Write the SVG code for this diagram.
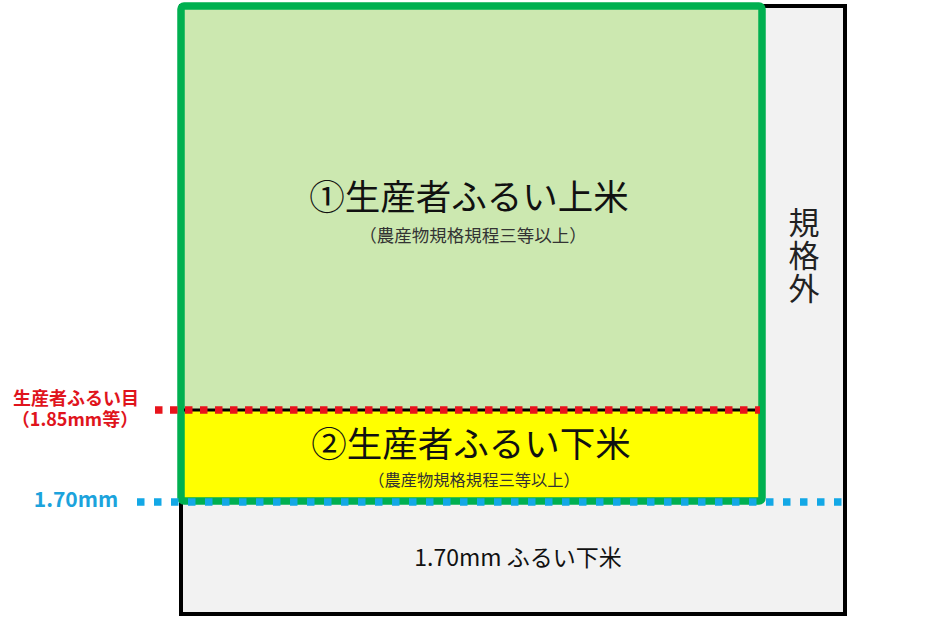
<svg xmlns="http://www.w3.org/2000/svg" width="937" height="621" viewBox="0 0 937 621">
<style>
.jp{font-family:"Noto Sans CJK JP","Noto Sans",sans-serif;}
.main{font-size:35.5px;fill:#111;text-anchor:middle;}
.sub{fill:#333;text-anchor:middle;}
.lbl{font-weight:bold;text-anchor:middle;}
</style>
<rect width="937" height="621" fill="#ffffff"/>
<g id="outer">
<rect x="181" y="6" width="664" height="608" fill="#f2f2f2" stroke="#000" stroke-width="4"/>
<text class="jp" x="804" y="207" font-size="31" fill="#222" style="writing-mode:vertical-rl;letter-spacing:2px">規格外</text>
<text class="jp" x="518" y="566" font-size="23" fill="#111" text-anchor="middle">1.70mm ふるい下米</text>
</g>
<g id="upper">
<rect x="181" y="6" width="581" height="404" fill="#cce8b0"/>
<text class="jp main" x="469" y="210">①生産者ふるい上米</text>
<text class="jp sub" x="473" y="242" font-size="17.5">（農産物規格規程三等以上）</text>
</g>
<g id="lower">
<rect x="181" y="410" width="581" height="90" fill="#ffff00"/>
<text class="jp main" x="471" y="457" font-size="32">②生産者ふるい下米</text>
<text class="jp sub" x="474" y="486" font-size="16.3">（農産物規格規程三等以上）</text>
</g>
<g id="green-frame">
<rect x="181" y="6" width="581" height="495" rx="3" fill="none" stroke="#00b050" stroke-width="7.5"/>
</g>
<g id="connectors">
<line x1="184" y1="410" x2="759" y2="410" stroke="#000" stroke-width="3"/>
<line x1="155" y1="410" x2="760" y2="410" stroke="#e8141c" stroke-width="7.5" stroke-dasharray="7.5 7.5"/>
<line x1="137" y1="502" x2="845" y2="502" stroke="#13a8e6" stroke-width="7.5" stroke-dasharray="7.5 9.5"/>
</g>
<g id="labels">
<text class="jp lbl" font-size="18" fill="#e0141c"><tspan x="76" y="404.5">生産者ふるい目</tspan><tspan x="75" y="425.5">（1.85mm等）</tspan></text>
<text class="jp lbl" x="76" y="507" font-size="21" fill="#1ca3dc">1.70mm</text>
</g>
</svg>
